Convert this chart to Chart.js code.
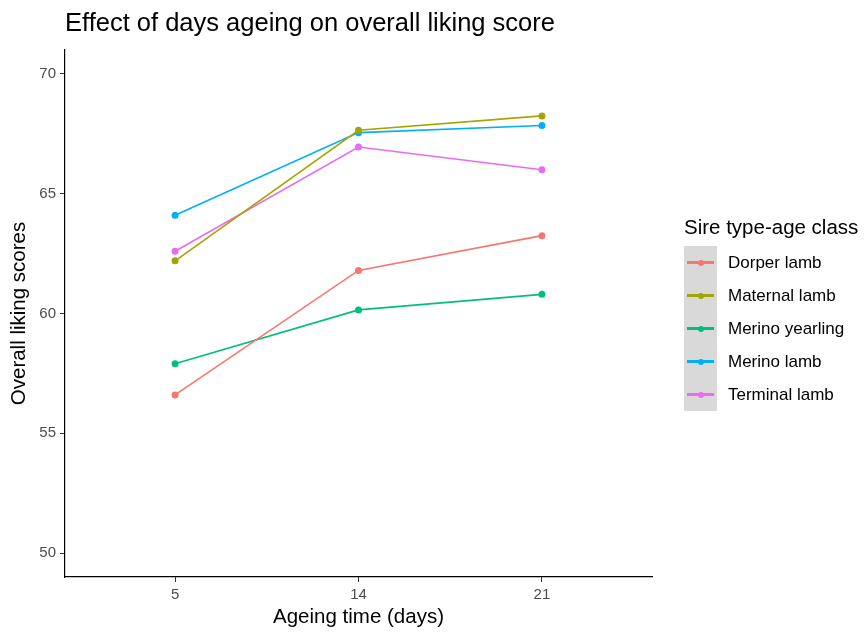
<!DOCTYPE html>
<html>
<head>
<meta charset="utf-8">
<script src="https://cdn.jsdelivr.net/npm/chart.js@4.4.1/dist/chart.umd.min.js"></script>
<style>
  body { margin: 0; background: #fff; font-family: "Liberation Sans", Arial, sans-serif; }
  #wrap { position: relative; width: 866px; height: 633px; }
  #chart { position: absolute; left: 0; top: 0; }
  #title { position: absolute; left: 65px; top: 10px; font-size: 25.5px; line-height: 1; color: #000; white-space: nowrap; }
  #legend { position: absolute; left: 684px; top: 217px; }
  #legend .ttl { font-size: 20.5px; line-height: 1; color: #000; white-space: nowrap; height: 29px; }
  #legend .keys { position: relative; }
  #legend .bg { position: absolute; left: 0; top: 0; width: 33px; background: #d9d9d9; }
  #legend .row { position: relative; height: 33px; }
  #legend .line { position: absolute; left: 3px; width: 27px; height: 2.6px; top: 15.2px; }
  #legend .dot { position: absolute; left: 13.5px; top: 13.5px; width: 6px; height: 6px; border-radius: 50%; }
  #legend .lbl { position: absolute; left: 44px; top: 8px; font-size: 17px; line-height: 1; color: #000; white-space: nowrap; }
</style>
</head>
<body>
<div id="wrap">
  <canvas id="chart" width="866" height="633"></canvas>
  <div id="title">Effect of days ageing on overall liking score</div>
  <div id="legend"></div>
</div>
<script>
const categories = ['5', '14', '21'];
const seriesNames = ['Dorper lamb', 'Maternal lamb', 'Merino yearling', 'Merino lamb', 'Terminal lamb'];
const seriesColors = ['#F8766D', '#A3A500', '#00BF7D', '#00B0F6', '#E76BF3'];
const dorperLamb = [56.6, 61.8, 63.25];
const maternalLamb = [62.2, 67.65, 68.25];
const merinoYearling = [57.9, 60.15, 60.8];
const merinoLamb = [64.1, 67.55, 67.85];
const terminalLamb = [62.6, 66.95, 66.0];
const yTicks = [50, 55, 60, 65, 70];

const seriesValues = [dorperLamb, maternalLamb, merinoYearling, merinoLamb, terminalLamb];

const datasets = seriesNames.map((name, i) => ({
  label: name,
  data: seriesValues[i].map((v, j) => ({ x: j + 1, y: v })),
  borderColor: seriesColors[i],
  backgroundColor: seriesColors[i],
  borderWidth: 1.6,
  pointRadius: 3.5,
  pointBorderWidth: 0,
  tension: 0
}));

const axisFont = { family: '"Liberation Sans", Arial, sans-serif', size: 15 };
const titleFont = { family: '"Liberation Sans", Arial, sans-serif', size: 20.5 };

new Chart(document.getElementById('chart'), {
  type: 'line',
  data: { datasets },
  options: {
    responsive: false,
    animation: false,
    layout: { padding: { top: 50, right: 214, bottom: 0, left: 0 } },
    plugins: { legend: { display: false }, tooltip: { enabled: false } },
    scales: {
      x: {
        type: 'linear',
        min: 0.4,
        max: 3.6,
        afterBuildTicks: (scale) => { scale.ticks = categories.map((c, i) => ({ value: i + 1 })); },
        afterFit: (scale) => { scale.height = 56; },
        ticks: {
          callback: (v) => categories[v - 1],
          color: '#4d4d4d',
          font: axisFont,
          padding: 4,
          maxRotation: 0
        },
        grid: { drawOnChartArea: false, tickLength: 5, color: '#333', lineWidth: 1 },
        border: { color: '#000', width: 1.2 },
        title: { display: true, text: 'Ageing time (days)', color: '#000', font: titleFont, padding: { top: 2, bottom: 3 } }
      },
      y: {
        min: 49,
        max: 71,
        afterBuildTicks: (scale) => { scale.ticks = yTicks.map(v => ({ value: v })); },
        afterFit: (scale) => { scale.width = 65; },
        ticks: { color: '#4d4d4d', font: axisFont, padding: 4 },
        grid: { drawOnChartArea: false, tickLength: 5, color: '#333', lineWidth: 1 },
        border: { color: '#000', width: 1.2 },
        title: { display: true, text: 'Overall liking scores', color: '#000', font: titleFont, padding: { top: 7, bottom: 0 } }
      }
    }
  }
});

// legend in the ggplot style
const legend = document.getElementById('legend');
let html = '<div class="ttl">Sire type-age class</div><div class="keys">';
html += '<div class="bg" style="height:' + (seriesNames.length * 33) + 'px"></div>';
seriesNames.forEach((name, i) => {
  html += '<div class="row"><div class="line" style="background:' + seriesColors[i] + '"></div>' +
    '<div class="dot" style="background:' + seriesColors[i] + '"></div>' +
    '<div class="lbl">' + name + '</div></div>';
});
html += '</div>';
legend.innerHTML = html;
</script>
</body>
</html>
